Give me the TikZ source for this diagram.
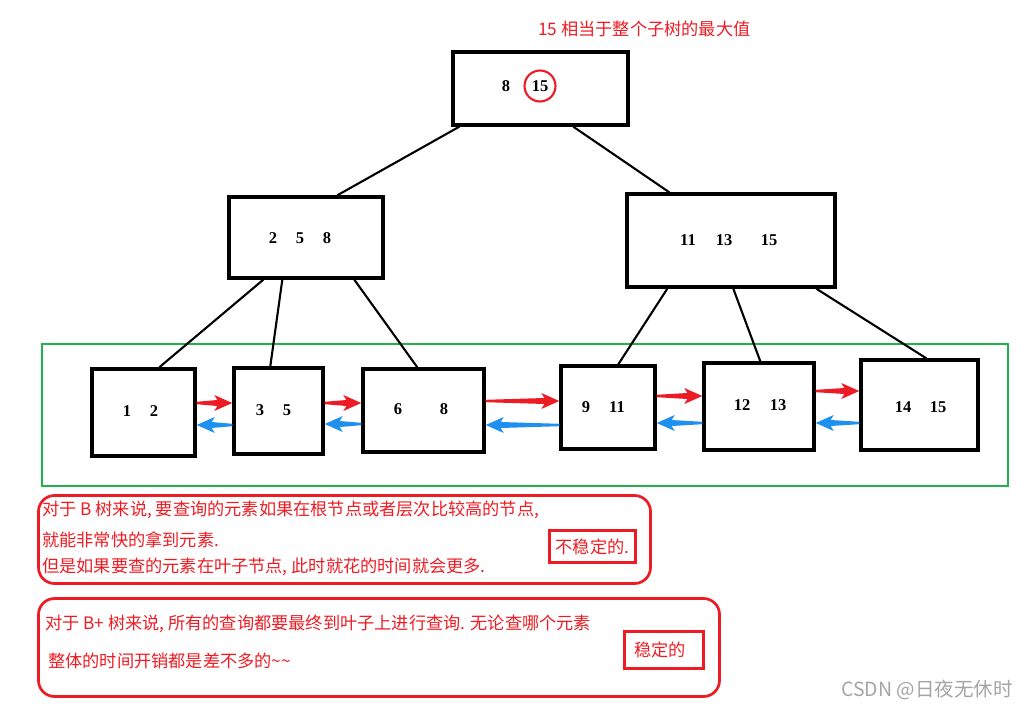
\documentclass[tikz,border=0pt]{standalone}
\usepackage{fontspec}
\setmainfont{Liberation Serif}
\newfontfamily\cjk{Noto Sans CJK SC}
\usetikzlibrary{calc}
\definecolor{pred}{RGB}{237,28,36}
\definecolor{pblue}{RGB}{30,144,240}
\definecolor{pgreen}{RGB}{34,177,76}
\definecolor{pgray}{RGB}{165,165,165}

\begin{document}
\begin{tikzpicture}[
        x=1pt, y=-1pt,
        box/.style={draw, line width=3.4pt, inner sep=0pt},
        key/.style={font=\bfseries\fontsize{16.5}{16.5}\selectfont, inner sep=0pt},
        edge/.style={draw, line width=2.1pt},
        note/.style={text=pred, font=\cjk\fontsize{17.2}{17.2}\selectfont, anchor=west, inner sep=0pt},
        frame/.style={draw=pred, line width=2.7pt, rounded corners=16pt, inner sep=0pt},
        tag/.style={draw=pred, line width=2.3pt, text=pred, font=\cjk\fontsize{17.2}{17.2}\selectfont, inner sep=0pt},
    ]
    \useasboundingbox (0,0) rectangle (1028,709);

    % Nodes
    \node [box, minimum width=175pt, minimum height=73pt] (root) at (540.5,88.5) {};
    \node [box, minimum width=154pt, minimum height=81pt] (ml) at (306,237.5) {};
    \node [box, minimum width=208pt, minimum height=93pt] (mr) at (731,240.5) {};
    \node [draw=pgreen, line width=2.3pt, minimum width=966pt, minimum height=142pt] (leaves) at (525,415) {};
    \node [box, minimum width=103pt, minimum height=87pt] (l1) at (143.5,412.5) {};
    \node [box, minimum width=89pt, minimum height=86pt] (l2) at (278.5,411) {};
    \node [box, minimum width=121pt, minimum height=83pt] (l3) at (423.5,410.5) {};
    \node [box, minimum width=94pt, minimum height=83pt] (l4) at (608,407.5) {};
    \node [box, minimum width=110pt, minimum height=87pt] (l5) at (759,406.5) {};
    \node [box, minimum width=117pt, minimum height=90pt] (l6) at (919.5,405) {};

    % Keys
    \foreach \k/\x/\y in {8/506/86, 2/273/238, 5/300/238, 8/327/238, 11/688/240, 13/724/240, 15/769/240,
        1/127/411, 2/154/411, 3/260/410, 5/287/410, 6/398/409, 8/444/409, 9/586/407, 11/617/407,
        12/742/405, 13/778/405, 14/903/407, 15/938/407}
        \node [key] (k-\x-\y) at (\x,\y) {\k};
    \node [key, circle, draw=pred, line width=2.1pt, minimum size=31pt] (max) at (540,86) {15};
    \node [text=pred, font=\cjk\fontsize{17.2}{17.2}\selectfont] (title) at (644.5,29) {15 相当于整个子树的最大值};

    % Tree edges
    \path [edge] ([xshift=8pt]root.south west) -- ([xshift=110pt]ml.north west);
    \path [edge] ([xshift=122pt]root.south west) -- ([xshift=44pt]mr.north west);
    \path [edge] ([xshift=36pt]ml.south west) -- ([xshift=69pt]l1.north west);
    \path [edge] ([xshift=55pt]ml.south west) -- ([xshift=38pt]l2.north west);
    \path [edge] ([xshift=127pt]ml.south west) -- ([xshift=56pt]l3.north west);
    \path [edge] ([xshift=42pt]mr.south west) -- ([xshift=59pt]l4.north west);
    \path [edge] ([xshift=108pt]mr.south west) -- ([xshift=58pt]l5.north west);
    \path [edge] ([xshift=191pt]mr.south west) -- ([xshift=67pt]l6.north west);

    % Leaf links
    \foreach \a/\b/\yf/\yb in {l1/l2/403/425, l2/l3/403/424, l3/l4/401/425, l4/l5/396/423, l5/l6/391/423} {
        \coordinate (t) at (\a.east |- 0,\yf);
        \coordinate (h) at (\b.west |- 0,\yf);
        \fill [pred] ($(t)+(0,-1.2)$) -- ($(h)+(-15,-3)$) -- ($(h)+(-18,-8)$) -- (h)
            -- ($(h)+(-18,8)$) -- ($(h)+(-15,3)$) -- ($(t)+(0,1.2)$) -- cycle;
        \coordinate (t) at (\b.west |- 0,\yb);
        \coordinate (h) at (\a.east |- 0,\yb);
        \fill [pblue] ($(t)+(0,-1.2)$) -- ($(h)+(15,-3)$) -- ($(h)+(18,-8)$) -- (h)
            -- ($(h)+(18,8)$) -- ($(h)+(15,3)$) -- ($(t)+(0,1.2)$) -- cycle;
    }

    % Notes
    \node [frame, minimum width=612pt, minimum height=88pt] (bnote) at (344.5,539.5) {};
    \node [note] (b1) at (42,510) {对于 B 树来说, 要查询的元素如果在根节点或者层次比较高的节点,};
    \node [note] (b2) at (42,540) {就能非常快的拿到元素.};
    \node [note] (b3) at (42,567) {但是如果要查的元素在叶子节点, 此时就花的时间就会更多.};
    \node [tag, minimum width=86pt, minimum height=32pt] (unstable) at (592.5,546.5) {不稳定的.};
    \node [frame, minimum width=681pt, minimum height=98pt] (bpnote) at (379,647.5) {};
    \node [note] (p1) at (45,624) {对于 B+ 树来说, 所有的查询都要最终到叶子上进行查询. 无论查哪个元素};
    \node [note] (p2) at (48,661) {整体的时间开销都是差不多的\textasciitilde\textasciitilde};
    \node [tag, minimum width=79pt, minimum height=37pt] (stable) at (664,650) {\hspace*{-8pt}稳定的};
    \node [text=pgray, font=\cjk\fontsize{19.5}{19.5}\selectfont] (mark) at (927,690) {CSDN @日夜无休时};
\end{tikzpicture}
\end{document}
